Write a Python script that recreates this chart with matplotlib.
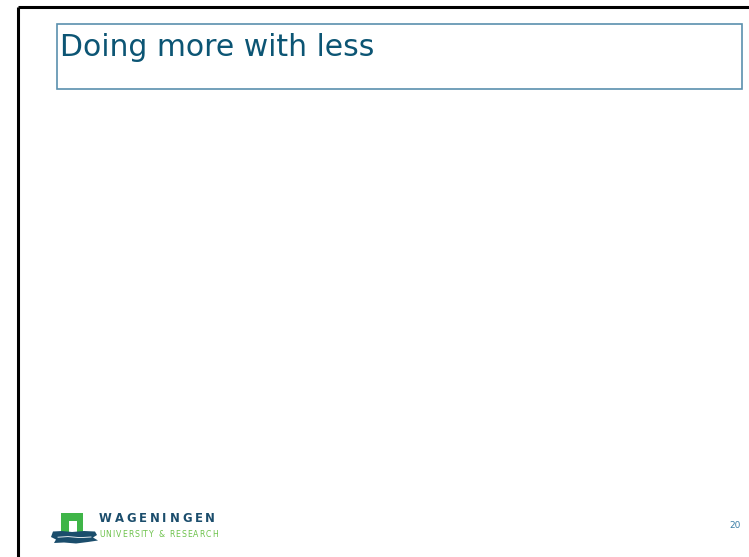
import matplotlib
matplotlib.use("Agg")
import matplotlib.pyplot as plt
from matplotlib.patches import Rectangle, Polygon

# Slide content
title = "Doing more with less"
brand_name = "WAGENINGEN"
brand_sub = "UNIVERSITY & RESEARCH"
page_number = "20"

W, H = 749, 557
fig = plt.figure(figsize=(W / 100, H / 100), dpi=100)
ax = fig.add_axes([0, 0, 1, 1])
ax.set_xlim(0, W)
ax.set_ylim(H, 0)
ax.axis("off")


def spaced_text(x0, x1, y, s, **kw):
    # spread characters of s evenly between x0 and x1 (letter-spaced logo type)
    renderer = fig.canvas.get_renderer()
    arts = [ax.text(0, y, ch, ha="left", va="baseline", **kw) for ch in s]
    widths = [a.get_window_extent(renderer).width for a in arts]
    gap = (x1 - x0 - sum(widths)) / (len(s) - 1)
    x = x0
    for a, w in zip(arts, widths):
        a.set_x(x)
        x += w + gap


# slide frame (top and left edges)
ax.plot([18, W + 5], [7, 7], color="black", lw=2.2, solid_capstyle="butt")
ax.plot([18, 18], [7, H + 5], color="black", lw=2.2, solid_capstyle="butt")

# title box
ax.add_patch(Rectangle((57, 24), 685, 65, fill=False, edgecolor="#5a90ae", lw=1.2))
ax.text(60, 55.5, title, fontsize=21.5, color="#0c5574", va="baseline", ha="left",
        family="DejaVu Sans")

# logo: green arch
green = "#3fb548"
ax.add_patch(Rectangle((61, 513), 22, 21, color=green, lw=0))
ax.add_patch(Rectangle((69, 521), 8, 13, color="white", lw=0))

# logo: blue waves
navy = "#1b4d6c"
wave = [(53, 531.5), (62, 531), (72, 532), (84, 531), (95, 531.5), (97, 535),
        (93, 537.5), (98, 540.5), (88, 542), (76, 543.5), (64, 542.5), (54, 543),
        (56, 539.5), (51, 537)]
ax.add_patch(Polygon(wave, closed=True, color=navy, lw=0))
ax.plot([58, 68, 80, 91], [537.2, 536.6, 537.6, 537.0], color="white", lw=0.6)

# logo text
spaced_text(99, 215, 522.5, brand_name, fontsize=8.4, color=navy,
            family="DejaVu Sans", fontweight="bold")
spaced_text(99, 218, 537, brand_sub, fontsize=5.6, color="#6cc24a",
            family="DejaVu Sans")

# page number
ax.text(741, 528, page_number, fontsize=6.5, color="#3a7ea6", va="baseline", ha="right",
        family="DejaVu Sans")

fig.savefig("out.png", dpi=100)
